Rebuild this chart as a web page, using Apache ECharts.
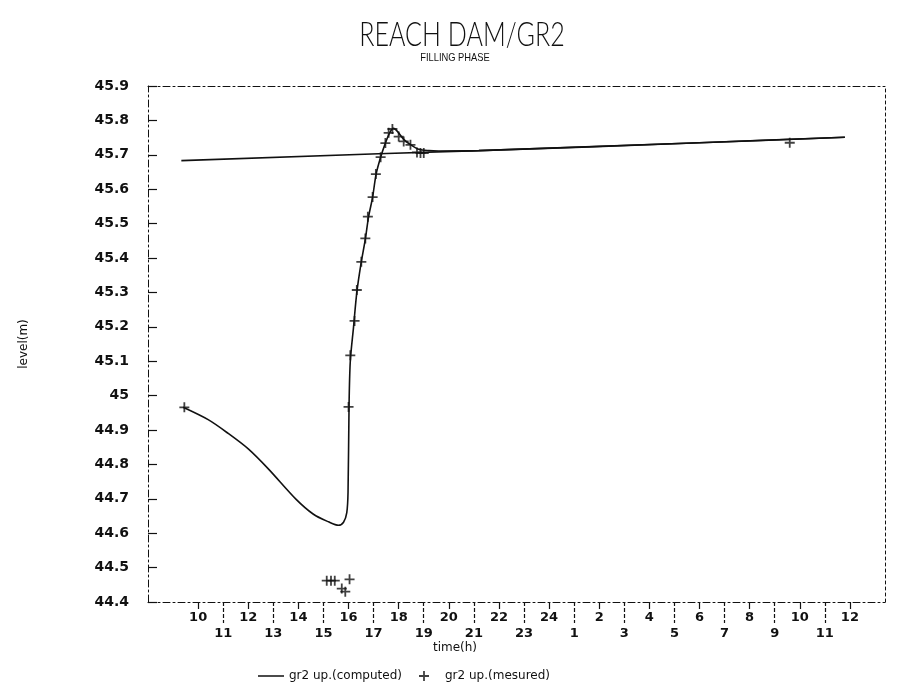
<!DOCTYPE html>
<html>
<head>
<meta charset="utf-8">
<title>REACH DAM/GR2 – filling phase</title>
<script src="https://cdn.jsdelivr.net/npm/echarts@6/dist/echarts.min.js"></script>
<style>
  html, body { margin: 0; padding: 0; background: #ffffff; }
  #chart { width: 903px; height: 693px; }
</style>
</head>
<body>
<div id="chart"></div>
<script>
// Hour ticks along the time axis (hours counted from midnight of day 1; 25 = 1 h next day)
const upperTickHours  = [10, 12, 14, 16, 18, 20, 22, 24, 26, 28, 30, 32, 34, 36];
const upperTickLabels = ['10', '12', '14', '16', '18', '20', '22', '24', '2', '4', '6', '8', '10', '12'];
const lowerTickHours  = [11, 13, 15, 17, 19, 21, 23, 25, 27, 29, 31, 33, 35];
const lowerTickLabels = ['11', '13', '15', '17', '19', '21', '23', '1', '3', '5', '7', '9', '11'];

// Computed water level at gr2 upstream during filling
const curveHours  = [9.4, 10.4, 11.2, 12.0, 12.8, 13.9, 14.6, 15.2, 15.6, 15.8, 15.93, 15.98,
                     16.02, 16.07, 16.2, 16.33, 16.5, 16.67, 16.8, 16.96, 17.1, 17.28, 17.47, 17.65, 17.8,
                     17.95, 18.2, 18.5, 18.8, 19.2, 19.6, 21.2, 30.0, 35.8];
const curveLevels = [44.966, 44.93, 44.89, 44.845, 44.787, 44.699, 44.655, 44.633, 44.623, 44.632, 44.66, 44.72,
                     44.97, 45.10, 45.20, 45.30, 45.385, 45.455, 45.52, 45.577, 45.644, 45.693, 45.734, 45.765, 45.777,
                     45.768, 45.745, 45.728, 45.716, 45.712, 45.711, 45.712, 45.735, 45.751];

// Computed steady reference level (drawn with the same line style)
const steadyHours  = [9.33, 17.2, 21.2, 30.0, 35.8];
const steadyLevels = [45.683, 45.703, 45.712, 45.735, 45.751];

// Measured water level at gr2 upstream
const measuredHours  = [9.45, 15.13, 15.3, 15.45, 15.73, 15.87, 16.04, 16.0, 16.07, 16.24, 16.33, 16.51, 16.67, 16.77,
                        16.96, 17.09, 17.28, 17.47, 17.6, 17.75, 18.0, 18.2, 18.47, 18.73, 18.87, 19.0, 33.6];
const measuredLevels = [44.966, 44.462, 44.462, 44.462, 44.439, 44.43, 44.466, 44.967, 45.117, 45.217, 45.307, 45.389, 45.457, 45.52,
                        45.577, 45.644, 45.693, 45.734, 45.764, 45.775, 45.753, 45.739, 45.729, 45.707, 45.705, 45.705, 45.735];

const zip = (xs, ys) => xs.map((x, i) => [x, ys[i]]);

const ink = '#111111';
const dashDot = [7, 3, 2, 3];
const X_MIN = 8, X_MAX = 37.4;
const Y_MIN = 44.4, Y_MAX = 45.9;
const plusPath = 'path://M0,4.1H10V5.9H0Z M4.1,0H5.9V10H4.1Z';
// thin horizontal stroke for the legend key (corner dots keep the box from being stretched)
const lineKeyPath = 'path://M0,0H0.01V0.01H0Z M0,4.2H26V5.8H0Z M25.99,9.99H26V10H25.99Z';

function labelFor(hours, labels) {
  return function (v) {
    const i = hours.findIndex(h => Math.abs(h - v) < 1e-6);
    return i >= 0 ? labels[i] : '';
  };
}

const tickFont = { fontFamily: 'DejaVu Sans', fontWeight: 'bold', fontSize: 13, color: ink };
const legendText = { fontFamily: 'DejaVu Sans', fontSize: 12, color: ink };

const chart = echarts.init(document.getElementById('chart'), null, { renderer: 'canvas' });

chart.setOption({
  backgroundColor: '#ffffff',
  animation: false,
  grid: { left: 148, right: 18, top: 86, bottom: 91 },
  legend: [
    {
      left: 253, top: 665, padding: 5,
      itemWidth: 26, itemHeight: 10,
      textStyle: legendText,
      data: [{ name: 'gr2 up.(computed)', icon: lineKeyPath }]
    },
    {
      left: 414, top: 665, padding: 5,
      itemWidth: 32, itemHeight: 10,
      textStyle: legendText,
      data: [{ name: 'gr2 up.(mesured)' }]
    }
  ],
  graphic: [
    {
      type: 'text', x: 462, y: 35, scaleX: 0.76, scaleY: 1,
      style: {
        text: 'REACH DAM/GR2', fill: ink,
        font: '300 33px Lato, "Liberation Sans", sans-serif',
        textAlign: 'center', textVerticalAlign: 'middle'
      }
    },
    {
      type: 'text', x: 455, y: 58, scaleX: 0.85, scaleY: 1,
      style: {
        text: 'FILLING PHASE', fill: ink,
        font: '11px "Liberation Sans", sans-serif',
        textAlign: 'center', textVerticalAlign: 'middle'
      }
    },
    {
      type: 'text', x: 455, y: 648,
      style: {
        text: 'time(h)', fill: ink,
        font: '12px "DejaVu Sans"',
        textAlign: 'center', textVerticalAlign: 'middle'
      }
    }
  ],
  xAxis: [
    {
      // even hours: short ticks, upper label row
      type: 'value', min: X_MIN, max: X_MAX, interval: 1, position: 'bottom',
      splitLine: { show: false },
      axisLine: { show: true, lineStyle: { color: ink, width: 1, type: dashDot } },
      axisTick: { show: true, inside: false, length: 7, customValues: upperTickHours, lineStyle: { color: ink, width: 1.2 } },
      axisLabel: { show: true, margin: 9, customValues: upperTickHours, formatter: labelFor(upperTickHours, upperTickLabels), ...tickFont }
    },
    {
      // odd hours: long ticks, lower label row
      type: 'value', min: X_MIN, max: X_MAX, interval: 1, position: 'bottom', offset: 0,
      splitLine: { show: false },
      axisLine: { show: false },
      axisTick: { show: true, inside: false, length: 21, customValues: lowerTickHours, lineStyle: { color: ink, width: 1.2, type: [4, 2] } },
      axisLabel: { show: true, margin: 25, customValues: lowerTickHours, formatter: labelFor(lowerTickHours, lowerTickLabels), ...tickFont }
    },
    {
      // top frame edge
      type: 'value', min: X_MIN, max: X_MAX, position: 'top',
      splitLine: { show: false }, axisTick: { show: false }, axisLabel: { show: false },
      axisLine: { show: true, lineStyle: { color: ink, width: 1, type: dashDot } }
    }
  ],
  yAxis: [
    {
      type: 'value', min: Y_MIN, max: Y_MAX, interval: 0.1, position: 'left',
      name: 'level(m)', nameLocation: 'middle', nameGap: 118,
      nameTextStyle: { fontFamily: 'DejaVu Sans', fontSize: 12, color: ink },
      splitLine: { show: false },
      axisLine: { show: true, lineStyle: { color: ink, width: 1, type: dashDot } },
      axisTick: { show: true, inside: true, length: 9, lineStyle: { color: ink, width: 1.2 } },
      axisLabel: { margin: 19, ...tickFont, fontSize: 14 }
    },
    {
      // right frame edge
      type: 'value', min: Y_MIN, max: Y_MAX, position: 'right',
      splitLine: { show: false }, axisTick: { show: false }, axisLabel: { show: false },
      axisLine: { show: true, lineStyle: { color: ink, width: 1, type: [3, 3] } }
    }
  ],
  series: [
    {
      name: 'gr2 up.(computed)', type: 'line', xAxisIndex: 0, yAxisIndex: 0,
      data: zip(curveHours, curveLevels),
      symbol: 'none', smooth: 0.3,
      lineStyle: { color: ink, width: 1.6 }, itemStyle: { color: ink }
    },
    {
      name: 'gr2 up.(computed)', type: 'line', xAxisIndex: 0, yAxisIndex: 0,
      data: zip(steadyHours, steadyLevels),
      symbol: 'none', smooth: false,
      lineStyle: { color: ink, width: 1.6 }, itemStyle: { color: ink }
    },
    {
      name: 'gr2 up.(mesured)', type: 'scatter', xAxisIndex: 0, yAxisIndex: 0,
      data: zip(measuredHours, measuredLevels),
      symbol: plusPath, symbolSize: 10,
      itemStyle: { color: ink }
    }
  ]
});
</script>
</body>
</html>
